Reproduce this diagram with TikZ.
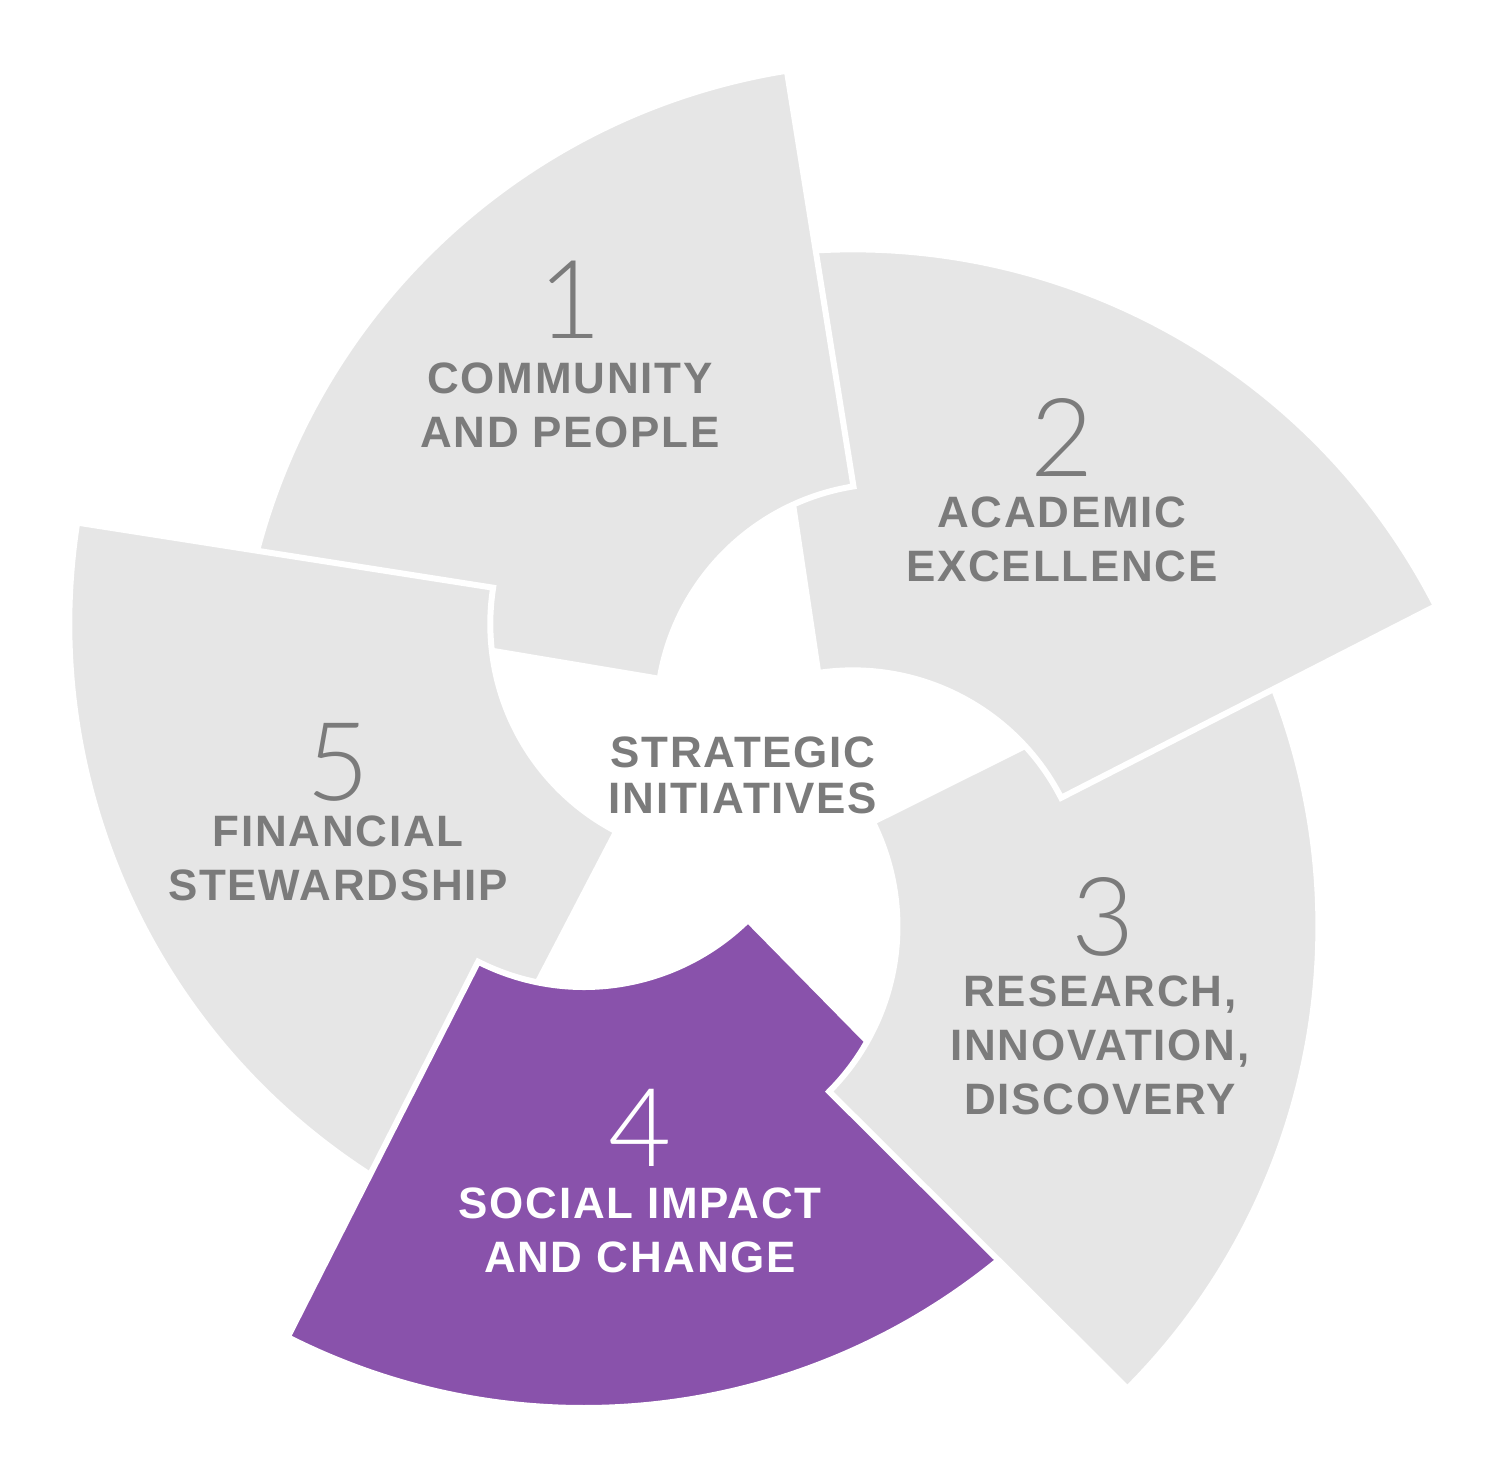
\documentclass[tikz,border=0pt]{standalone}
\usepackage{fontspec}
\newfontfamily\labfont[LetterSpace=4]{Liberation Sans Bold}
\newfontfamily\numfont{Lato Light}
\usetikzlibrary{calc}
\definecolor{secgray}{HTML}{E6E6E6}
\definecolor{txtgray}{HTML}{7B7B7B}
\definecolor{purp}{HTML}{8952AB}
\tikzset{
  sec/.style={line width=0.06cm, draw=white, line join=miter},
  lab/.style={font=\labfont\fontsize{12.5}{15.4}\selectfont, text=txtgray, align=center},
  num/.style={font=\numfont\fontsize{31}{31}\selectfont, text=txtgray},
}
\newcommand{\mysector}[2]{%
  \begin{scope}[rotate around={#1:(743,-785)}]
    \path[sec,fill=#2] (584,-753) ++(243.1:234) arc[start angle=243.1,end angle=314.5,radius=234]
      -- ([shift={(584,-753)}]314.5:655) arc[start angle=314.5,end angle=243.1,radius=655] -- cycle;
  \end{scope}}
\begin{document}
\begin{tikzpicture}[x=0.01cm,y=0.01cm]
\useasboundingbox (0,-1457) rectangle (1501,0);
\fill[white] (0,-1457) rectangle (1501,0);
\mysector{-72}{secgray}
\mysector{0}{purp}
\mysector{72}{secgray}
\mysector{144}{secgray}
\mysector{-144}{secgray}
\begin{scope}
  \clip (0,-850) rectangle (700,0);
  \mysector{-72}{secgray}
\end{scope}
\node[num] (n1) at (570,-300) {1};
\node[lab] (t1) at (570,-405) {COMMUNITY\\AND PEOPLE};
\node[num] (n2) at (1062,-437) {2};
\node[lab] (t2) at (1062,-539) {ACADEMIC\\EXCELLENCE};
\node[num] (n3) at (1103,-917) {3};
\node[lab] (t3) at (1100,-1045) {RESEARCH,\\INNOVATION,\\DISCOVERY};
\node[num,text=white] (n4) at (640,-1128) {4};
\node[lab,text=white] (t4) at (640,-1230) {SOCIAL IMPACT\\AND CHANGE};
\node[num] (n5) at (338,-762) {5};
\node[lab] (t5) at (338,-858) {FINANCIAL\\STEWARDSHIP};
\node[lab,font=\labfont\fontsize{12.5}{13}\selectfont] (tc) at (743,-775) {STRATEGIC\\INITIATIVES};
\end{tikzpicture}
\end{document}
